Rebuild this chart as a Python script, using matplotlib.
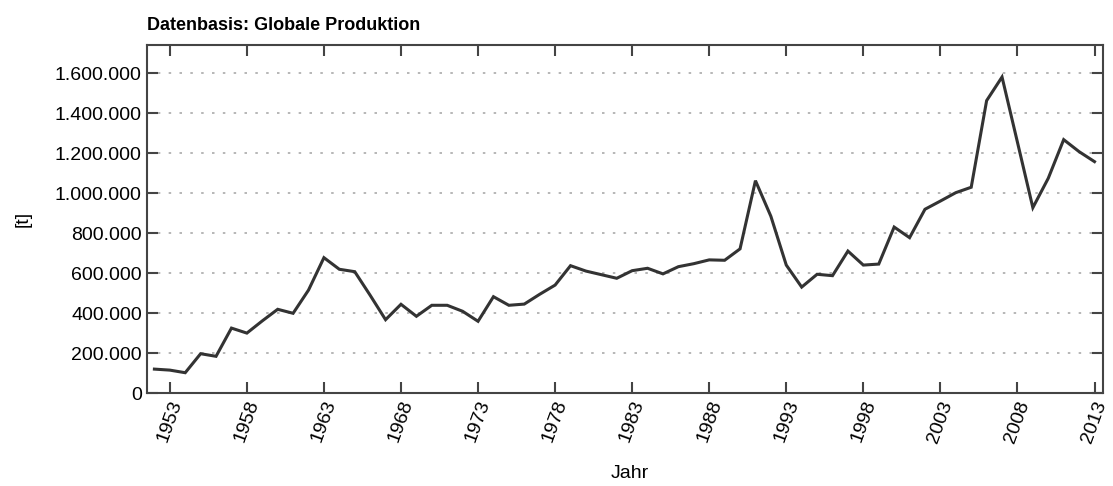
import numpy as np
import matplotlib
matplotlib.use('Agg')
import matplotlib.pyplot as plt
from matplotlib.ticker import FuncFormatter

plt.rcParams['font.family'] = ['Liberation Sans', 'DejaVu Sans']

years = list(range(1952, 2014))
production = [
    121000, 116000, 103000, 198000, 185000, 326000, 301000, 362000, 420000, 400000,
    516000, 678000, 620000, 608000, 490000, 368000, 445000, 385000, 440000, 440000,
    410000, 360000, 483000, 440000, 446000, 495000, 541000, 638000, 611000, 593000,
    575000, 613000, 625000, 597000, 633000, 648000, 667000, 665000, 722000, 1063000,
    885000, 641000, 531000, 595000, 588000, 711000, 641000, 646000, 831000, 778000,
    920000, 961000, 1003000, 1030000, 1463000, 1581000, 1255000, 928000, 1075000, 1268000,
    1208000, 1158000,
]
xticks = list(range(1953, 2014, 5))
yticks = list(range(0, 1600001, 200000))

fig = plt.figure(figsize=(11.13, 4.86), dpi=100)
ax = fig.add_axes([0.1318, 0.1907, 0.8592, 0.7167])

ax.plot(years, production, color='#333333', linewidth=2.2, solid_joinstyle='miter')

ax.set_xlim(1951.5, 2013.55)
ax.set_ylim(0, 1741000)
ax.set_xticks(xticks)
ax.set_yticks(yticks)
ax.yaxis.set_major_formatter(FuncFormatter(lambda v, p: '{:,.0f}'.format(v).replace(',', '.')))
ax.tick_params(axis='both', direction='in', top=True, right=True, labelsize=14,
               color='#444444', width=1.5, length=8)
plt.setp(ax.get_xticklabels(), rotation=70)
ax.grid(axis='y', linestyle=(0, (1.5, 5)), color='#aaaaaa', linewidth=1.2)
for s in ax.spines.values():
    s.set_color('#444444')
    s.set_linewidth(1.5)

ax.set_xlabel('Jahr', fontsize=14)
ax.set_ylabel('[t]', fontsize=14)
ax.xaxis.set_label_coords(0.505, -0.206)
ax.yaxis.set_label_coords(-0.12, 0.5)
ax.set_title('Datenbasis: Globale Produktion', loc='left', fontsize=13,
             fontweight='bold', pad=10.5)

fig.savefig('out.png', dpi=100)
